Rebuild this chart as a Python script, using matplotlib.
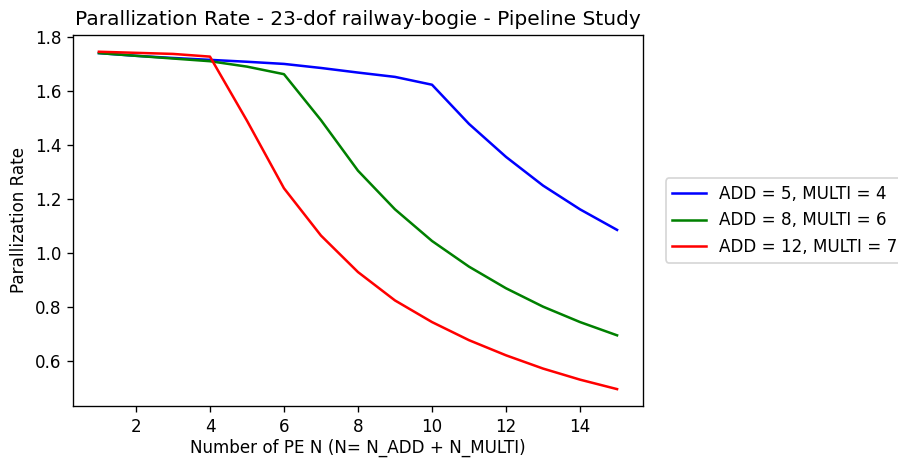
import matplotlib
matplotlib.use("Agg")
import matplotlib.pyplot as plt

n_pe = list(range(1, 16))
rate_add5_multi4 = [1.740, 1.730, 1.722, 1.715, 1.708, 1.700, 1.685, 1.668, 1.652, 1.623,
                    1.478, 1.356, 1.250, 1.162, 1.086]
rate_add8_multi6 = [1.740, 1.730, 1.720, 1.710, 1.690, 1.662, 1.492, 1.305, 1.162, 1.045,
                    0.950, 0.870, 0.802, 0.745, 0.696]
rate_add12_multi7 = [1.745, 1.741, 1.737, 1.727, 1.490, 1.240, 1.065, 0.930, 0.825, 0.745,
                     0.678, 0.622, 0.573, 0.532, 0.497]
labels = ["ADD = 5, MULTI = 4", "ADD = 8, MULTI = 6", "ADD = 12, MULTI = 7"]
colors = ["blue", "green", "red"]

DPI = 121
fig = plt.figure(figsize=(898 / DPI, 459 / DPI), dpi=DPI)
ax = fig.add_subplot(111)
fig.subplots_adjust(left=0.0813, right=0.716, top=0.924, bottom=0.1155)

for ys, lab, c in zip([rate_add5_multi4, rate_add8_multi6, rate_add12_multi7], labels, colors):
    ax.plot(n_pe, ys, color=c, label=lab)

ax.set_title("Parallization Rate - 23-dof railway-bogie - Pipeline Study")
ax.set_xlabel("Number of PE N (N= N_ADD + N_MULTI)", labelpad=1.8)
ax.set_ylabel("Parallization Rate")
ax.legend(loc="center left", bbox_to_anchor=(1.025, 0.5))

fig.savefig("out.png", dpi=DPI)
